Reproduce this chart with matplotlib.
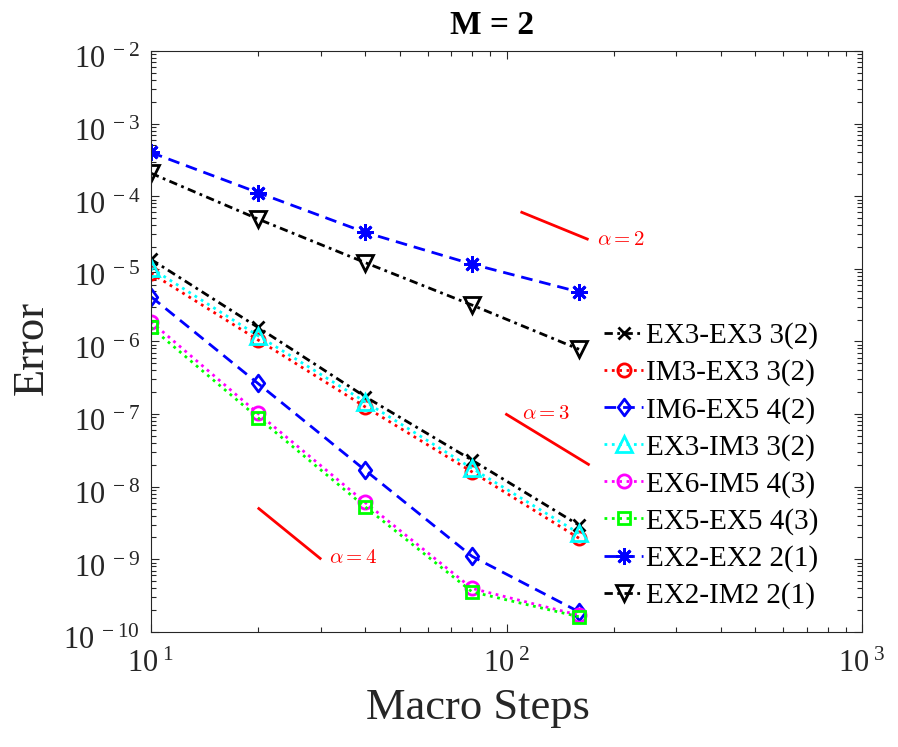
import numpy as np
import matplotlib
matplotlib.use('Agg')
import matplotlib.pyplot as plt
from matplotlib import ticker
from matplotlib.path import Path
from matplotlib.transforms import ScaledTranslation

plt.rcParams['font.family'] = ['Liberation Serif', 'DejaVu Serif']
plt.rcParams['mathtext.fontset'] = 'custom'
plt.rcParams['mathtext.rm'] = 'Liberation Serif'
plt.rcParams['mathtext.it'] = 'Liberation Serif:italic'
plt.rcParams['axes.edgecolor'] = '#262626'
plt.rcParams['xtick.color'] = '#262626'
plt.rcParams['ytick.color'] = '#262626'

# macro steps and errors
steps = [10, 20, 40, 80, 160]
ex3_ex3 = [1.35e-5, 1.56e-6, 1.74e-7, 2.32e-8, 2.95e-9]
im3_ex3 = [8.7e-6, 1.05e-6, 1.26e-7, 1.6e-8, 1.95e-9]
im6_ex5 = [4.13e-6, 2.64e-7, 1.69e-8, 1.1e-9, 1.89e-10]
ex3_im3 = [1.02e-5, 1.2e-6, 1.48e-7, 1.79e-8, 2.28e-9]
ex6_im5 = [1.87e-6, 1.02e-7, 6.08e-9, 3.98e-10, 1.7e-10]
ex5_ex5 = [1.56e-6, 8.9e-8, 5.3e-9, 3.57e-10, 1.62e-10]
ex2_ex2 = [4.0e-4, 1.12e-4, 3.18e-5, 1.16e-5, 4.8e-6]
ex2_im2 = [2.07e-4, 4.85e-5, 1.22e-5, 3.17e-6, 7.8e-7]

labels = ['EX3-EX3 3(2)', 'IM3-EX3 3(2)', 'IM6-EX5 4(2)', 'EX3-IM3 3(2)',
          'EX6-IM5 4(3)', 'EX5-EX5 4(3)', 'EX2-EX2 2(1)', 'EX2-IM2 2(1)']

# reference slope segments
slope2_x = [110.4, 168.7]
slope2_y = [6.0e-5, 2.57e-5]
slope3_x = [100.0, 170.0]
slope3_y = [9.9e-8, 2.03e-8]
slope4_x = [20.1, 29.9]
slope4_y = [5.0e-9, 1.03e-9]

diamond = Path([(0, 1), (0.75, 0), (0, -1), (-0.75, 0), (0, 1)],
               [Path.MOVETO, Path.LINETO, Path.LINETO, Path.LINETO, Path.CLOSEPOLY])
asterisk = (8, 2, 0)

dashdot = (3, 1.6, 1, 1.6)
dashed = (4.2, 2.5)
dotted = (1, 1.65)

styles = [
    dict(color='k', dashes=dashdot, marker='x', ms=9, mew=2),
    dict(color='#ff0000', dashes=dotted, marker='o', ms=9.5, mew=2, mfc='none'),
    dict(color='#0000ff', dashes=dashed, marker=diamond, ms=12, mew=2, mfc='none'),
    dict(color='#00ffff', dashes=dotted, marker='^', ms=11, mew=2, mfc='none'),
    dict(color='#ff00ff', dashes=dotted, marker='o', ms=9.5, mew=2, mfc='none'),
    dict(color='#00ff00', dashes=dotted, marker='s', ms=8, mew=2, mfc='none'),
    dict(color='#0000ff', dashes=dashed, marker=asterisk, ms=12, mew=2),
    dict(color='k', dashes=dashdot, marker='v', ms=11, mew=2, mfc='none'),
]
series = [ex3_ex3, im3_ex3, im6_ex5, ex3_im3, ex6_im5, ex5_ex5, ex2_ex2, ex2_im2]

fig = plt.figure(figsize=(8.98, 7.47), dpi=100)
ax = fig.add_axes([0.1682, 0.1540, 0.7917, 0.7778])

for vals, lab, st in zip(series, labels, styles):
    ax.plot(steps, vals, lw=2, label=lab, **st)

ax.plot(slope2_x, slope2_y, color='r', lw=2)
ax.plot(slope3_x, slope3_y, color='r', lw=2)
ax.plot(slope4_x, slope4_y, color='r', lw=2)
ax.text(179.8, 2.49e-5, r'$\alpha = 2$', color='r', fontsize=15, va='center', math_fontfamily='cm')
ax.text(110.2, 9.9e-8, r'$\alpha = 3$', color='r', fontsize=15, va='center', math_fontfamily='cm')
ax.text(31.7, 1.04e-9, r'$\alpha = 4$', color='r', fontsize=15, va='center', math_fontfamily='cm')

ax.set_xscale('log')
ax.set_yscale('log')
ax.set_xlim(10, 1000)
ax.set_ylim(1e-10, 1e-2)

ax.yaxis.set_major_locator(ticker.LogLocator(base=10, numticks=20))
ax.yaxis.set_minor_locator(ticker.LogLocator(base=10, subs=np.arange(2, 10), numticks=20))
ax.xaxis.set_major_locator(ticker.LogLocator(base=10, numticks=20))
ax.xaxis.set_minor_locator(ticker.LogLocator(base=10, subs=np.arange(2, 10), numticks=20))
fmt = ticker.FuncFormatter(lambda v, p: r'$10^{\ %d}$' % int(round(np.log10(v))))
ax.xaxis.set_major_formatter(fmt)
ax.yaxis.set_major_formatter(fmt)
ax.xaxis.set_minor_formatter(ticker.NullFormatter())
ax.yaxis.set_minor_formatter(ticker.NullFormatter())

ax.tick_params(which='both', direction='in', top=True, right=True, width=0.8)
ax.tick_params(which='major', length=6, labelsize=22)
ax.tick_params(which='minor', length=3.5)
ax.tick_params(axis='y', which='major', pad=8)
ax.tick_params(axis='x', which='major', pad=13)
for s in ax.spines.values():
    s.set_linewidth(0.8)

ax.set_title('M = 2', fontsize=24, fontweight='bold', x=0.48, pad=12)
ax.set_xlabel('Macro Steps', fontsize=32, color='#262626')
ax.set_ylabel('Error', fontsize=32, color='#262626')
ax.xaxis.set_label_coords(0.46, -0.097)
ax.yaxis.set_label_coords(-0.14, 0.488)

ax.legend(loc='center left', bbox_to_anchor=(0.637, 0.286), frameon=False, fontsize=21,
          handlelength=1.35, handletextpad=0.1, labelspacing=0.35, borderpad=0, borderaxespad=0)

# nudge y tick labels down a little, like MATLAB centres the whole label
fig.canvas.draw()
shift = ScaledTranslation(0, -4.5 / 72, fig.dpi_scale_trans)
for t in ax.yaxis.get_major_ticks():
    t.label1.set_transform(t.label1.get_transform() + shift)

fig.savefig('out.png', dpi=100)
